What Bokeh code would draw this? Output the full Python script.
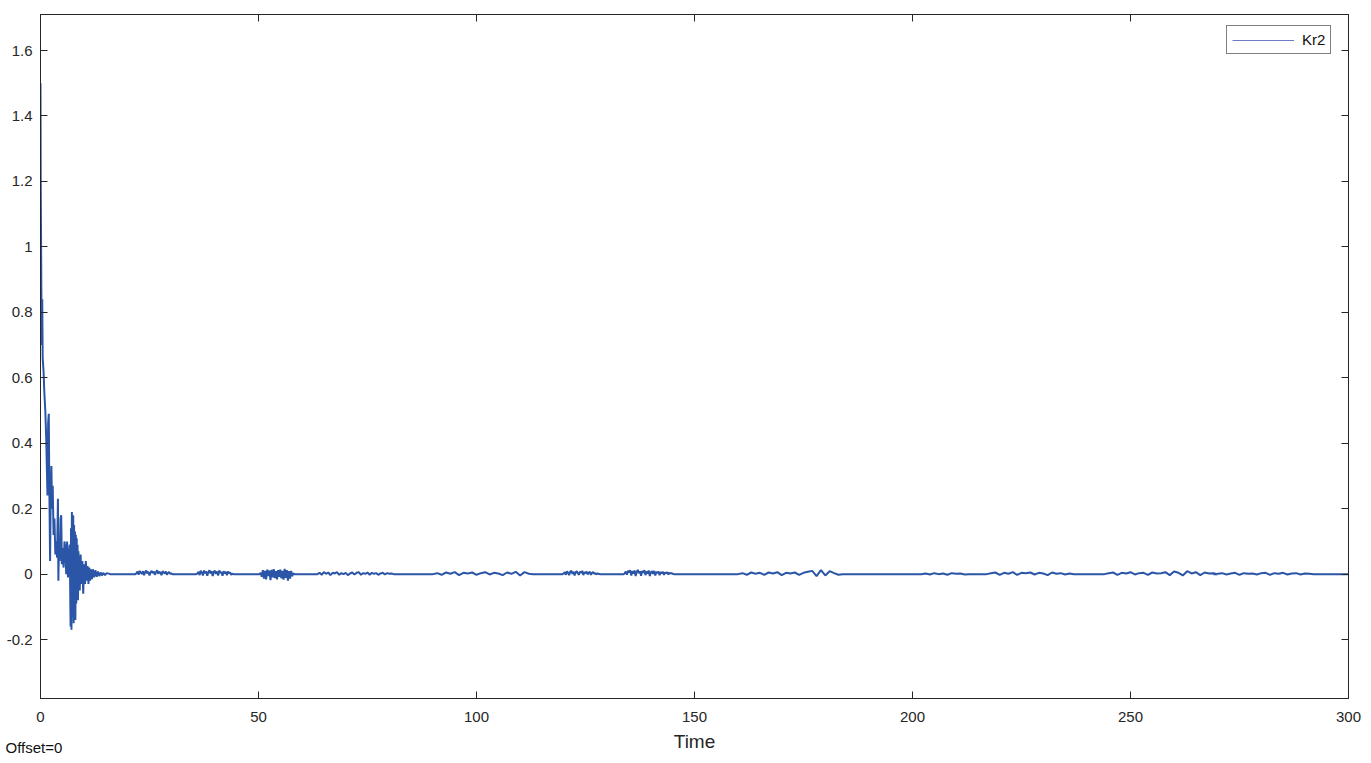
from bokeh.plotting import figure
from bokeh.models import LinearAxis, FixedTicker, Title, Legend, LegendItem, Range1d
from bokeh.embed import file_html
from bokeh.resources import INLINE

# ---------------- data ----------------
series_name = "Kr2"
x_label = "Time"
offset_text = "Offset=0"

x_ticks = [0, 50, 100, 150, 200, 250, 300]
y_ticks = [-0.2, 0, 0.2, 0.4, 0.6, 0.8, 1, 1.2, 1.4, 1.6]
y_tick_labels = ["-0.2", "0", "0.2", "0.4", "0.6", "0.8", "1", "1.2", "1.4", "1.6"]

# initial transient
transient_t = [0, 0.05, 0.2, 0.3, 0.4, 0.5, 0.7, 0.9, 1.1, 1.3, 1.5, 1.6, 1.75, 1.9, 2.0,
               2.2, 2.35, 2.5, 2.65, 2.8, 3.0, 3.2, 3.4, 3.6, 3.8, 4.0, 4.1, 4.25, 4.4,
               4.6, 4.75, 4.9, 5.1, 5.3, 5.5, 5.7, 5.9, 6.1, 6.3, 6.5, 6.7, 6.9, 7.0,
               7.1, 7.2, 7.35, 7.5, 7.6, 7.7, 7.8, 7.9, 8.0, 8.1, 8.2, 8.3, 8.4, 8.5,
               8.6, 8.7, 8.8, 8.9, 9.0, 9.2, 9.4, 9.6, 9.8, 10.0, 10.2, 10.4, 10.6,
               10.8, 11.0, 11.2, 11.4, 11.6, 11.8, 12.0, 12.3, 12.6, 12.9, 13.2, 13.5,
               13.8, 14.1, 14.4, 14.8, 15.2, 16.0]
transient_v = [1.50, 1.20, 0.86, 0.70, 0.84, 0.66, 0.62, 0.55, 0.50, 0.42, 0.30, 0.24, 0.46,
               0.49, 0.30, 0.04, 0.25, 0.33, 0.20, 0.27, 0.12, 0.17, 0.06, 0.10, 0.05,
               0.23, -0.02, 0.10, 0.04, 0.17, 0.18, 0.03, 0.08, 0.02, 0.10, 0.08, 0.00,
               0.10, -0.01, 0.06, 0.09, -0.16, 0.14, -0.17, 0.19, -0.13, 0.18, -0.15,
               0.15, -0.12, 0.13, -0.14, 0.12, -0.09, 0.11, -0.06, 0.09, -0.08, 0.07,
               -0.04, 0.05, -0.05, 0.06, -0.03, 0.04, -0.06, 0.03, -0.03, 0.04, -0.02,
               0.025, -0.03, 0.02, -0.02, 0.015, -0.015, 0.015, -0.01, 0.012, -0.008,
               0.008, -0.006, 0.005, -0.004, 0.004, -0.003, 0.003, 0.0]

# noise bursts: start time, sample spacing, values
burst_a = (22, 0.25, [0.003, 0.008, -0.002, 0.010, 0.004, 0.001, 0.009, -0.003, 0.006, 0.011,
                      0.002, 0.007, -0.004, 0.005, 0.010, 0.003, 0.008, -0.002, 0.006, 0.012,
                      0.001, 0.007, 0.004, -0.003, 0.009, 0.005, 0.002, 0.008, -0.002, 0.004,
                      0.006, 0.001, 0.002])
burst_b = (36, 0.25, [0.002, 0.007, -0.003, 0.010, 0.005, -0.004, 0.011, 0.003, 0.008, -0.005,
                      0.006, 0.012, 0.002, 0.009, -0.006, 0.007, 0.010, 0.001, 0.008, -0.004,
                      0.011, 0.004, 0.006, -0.005, 0.009, 0.002, 0.007, -0.003, 0.008, 0.003,
                      0.005, -0.002, 0.001])
burst_c = (50.5, 0.25, [0.004, -0.008, 0.012, -0.014, 0.010, -0.016, 0.014, -0.006, 0.011,
                        -0.018, 0.013, -0.010, 0.015, -0.012, 0.009, -0.016, 0.012, -0.008,
                        0.014, -0.013, 0.010, -0.017, 0.016, -0.011, 0.012, -0.020, 0.009,
                        -0.014, 0.010, -0.006, 0.002])
burst_d = (64, 0.5, [0.004, -0.002, 0.006, 0.001, 0.005, -0.003, 0.004, 0.002, 0.006, -0.002,
                     0.003, 0.000, 0.004, -0.003, 0.002, 0.005, -0.001, 0.004, 0.006, -0.002,
                     0.003, 0.001, 0.005, -0.002, 0.004, 0.001, 0.003, -0.002, 0.002, 0.004,
                     -0.001, 0.003, 0.001, 0.002, 0.000])
burst_e = (91, 1, [0.003, -0.002, 0.005, 0.001, 0.006, -0.003, 0.004, 0.002, 0.005, -0.002,
                   0.003, 0.006, -0.001, 0.004, 0.002, -0.003, 0.005, 0.001, 0.007, -0.004,
                   0.006, 0.001])
burst_f = (120, 0.25, [0.002, 0.006, -0.002, 0.009, 0.004, -0.003, 0.008, 0.010, 0.001, 0.007,
                       -0.004, 0.006, 0.009, 0.002, -0.002, 0.008, 0.004, 0.010, -0.003, 0.006,
                       0.003, 0.008, -0.001, 0.005, 0.007, -0.002, 0.004, 0.006, 0.001, 0.003,
                       -0.001, 0.002, 0.001])
burst_g = (134, 0.25, [0.003, 0.008, -0.002, 0.010, 0.005, 0.012, -0.004, 0.009, 0.002, 0.011,
                       -0.006, 0.007, 0.013, 0.003, 0.009, -0.005, 0.010, 0.004, 0.012, -0.003,
                       0.008, 0.002, 0.011, -0.006, 0.006, 0.009, 0.001, 0.010, -0.004, 0.007,
                       0.003, 0.008, -0.003, 0.006, 0.002, 0.007, -0.002, 0.005, 0.003, 0.006,
                       -0.001, 0.004, 0.002, 0.003, 0.001])
burst_h = (161, 1, [0.003, -0.002, 0.005, 0.001, 0.004, -0.002, 0.005, 0.002, 0.006, -0.003,
                    0.004, 0.002, 0.005, -0.002, 0.004, 0.007, 0.010, -0.006, 0.012, -0.004,
                    0.009, 0.003, -0.002])
burst_i = (203, 1, [0.002, -0.001, 0.003, 0.000, 0.002, -0.002, 0.003, 0.001, 0.002, -0.001])
burst_j = (218, 1, [0.003, 0.005, -0.002, 0.004, 0.001, 0.006, -0.002, 0.004, 0.003, 0.005,
                    -0.001, 0.004, 0.002, -0.003, 0.005, 0.001, 0.003, -0.001, 0.002])
burst_k = (245, 1, [0.003, 0.005, -0.002, 0.004, 0.002, 0.006, -0.001, 0.003, 0.004, -0.002,
                    0.005, 0.002, 0.003, 0.006, -0.003, 0.008, 0.004, -0.004, 0.009, 0.002,
                    0.006, -0.003, 0.005, 0.002, 0.003])
burst_l = (270, 1, [0.001, 0.003, -0.001, 0.002, 0.004, -0.002, 0.003, 0.001, 0.002, -0.001,
                    0.003, 0.004, -0.002, 0.003, 0.001, 0.004, -0.001, 0.002, 0.003, -0.001,
                    0.002, 0.001, 0.000])
bursts = [burst_a, burst_b, burst_c, burst_d, burst_e, burst_f, burst_g, burst_h,
          burst_i, burst_j, burst_k, burst_l]
t_end = 300

# ---------------- assemble series ----------------
ts = list(transient_t)
vs = list(transient_v)
for start, step, vals in bursts:
    ts.append(start - step)
    vs.append(0.0)
    for i, v in enumerate(vals):
        ts.append(start + i * step)
        vs.append(v)
    ts.append(start + len(vals) * step)
    vs.append(0.0)
ts.append(t_end)
vs.append(0.0)

# ---------------- figure ----------------
FONT = "Liberation Sans"
AX = "#262626"
LINE = "#2B55A6"
W, H = 1370, 762

p = figure(width=W, height=H, output_backend="svg", toolbar_location=None,
           x_range=Range1d(0, 300), y_range=Range1d(-0.38, 1.71),
           min_border_left=40, min_border_right=W - 1348, min_border_top=14,
           min_border_bottom=H - 698,
           background_fill_color="white", border_fill_color="white")
p.grid.visible = False
p.outline_line_color = AX
p.outline_line_width = 1

r = p.line(ts, vs, line_color=LINE, line_width=2)
# legend swatch (single point: draws nothing in the plot area)
leg_r = p.line([ts[-1]], [vs[-1]], line_color="#6F7CC2", line_width=1.2)

def style_axis(ax, show_labels):
    ax.axis_line_color = AX
    ax.major_tick_line_color = AX
    ax.major_tick_in = 7
    ax.major_tick_out = 0
    ax.minor_tick_line_color = None
    ax.major_label_text_font = FONT
    ax.major_label_text_font_size = "15px"
    if show_labels:
        ax.major_label_text_color = AX
    else:
        ax.major_label_text_color = None
        ax.major_label_standoff = 0

xa = p.xaxis[0]
xa.ticker = FixedTicker(ticks=x_ticks)
style_axis(xa, True)
xa.major_label_standoff = 13
xa.axis_label = x_label
xa.axis_label_text_font = FONT
xa.axis_label_text_font_style = "normal"
xa.axis_label_text_font_size = "19px"
xa.axis_label_text_color = AX
xa.axis_label_standoff = 6

ya = p.yaxis[0]
ya.ticker = FixedTicker(ticks=y_ticks)
ya.major_label_overrides = {t: l for t, l in zip(y_ticks, y_tick_labels)}
style_axis(ya, True)
ya.major_label_standoff = 8

top = LinearAxis(ticker=FixedTicker(ticks=x_ticks))
style_axis(top, False)
top.major_label_overrides = {t: "" for t in x_ticks}
p.add_layout(top, "above")
right = LinearAxis(ticker=FixedTicker(ticks=y_ticks))
style_axis(right, False)
right.major_label_overrides = {t: "" for t in y_ticks}
p.add_layout(right, "right")

legend = Legend(items=[LegendItem(label=series_name, renderers=[leg_r])],
                location=(1186, 644), border_line_color="black", border_line_width=1,
                glyph_width=62, glyph_height=14, padding=5, label_standoff=8,
                label_text_font=FONT, label_text_font_size="15px", label_text_color="#111111",
                background_fill_color="white", background_fill_alpha=1)
p.add_layout(legend, "center")

offset_title = Title(text=offset_text, align="left", offset=-35, standoff=-32,
                     vertical_align="top",
                     text_font=FONT, text_font_size="15px", text_font_style="normal",
                     text_color="#111111")
p.add_layout(offset_title, "below")

open("out.html", "w").write(file_html(p, INLINE))
